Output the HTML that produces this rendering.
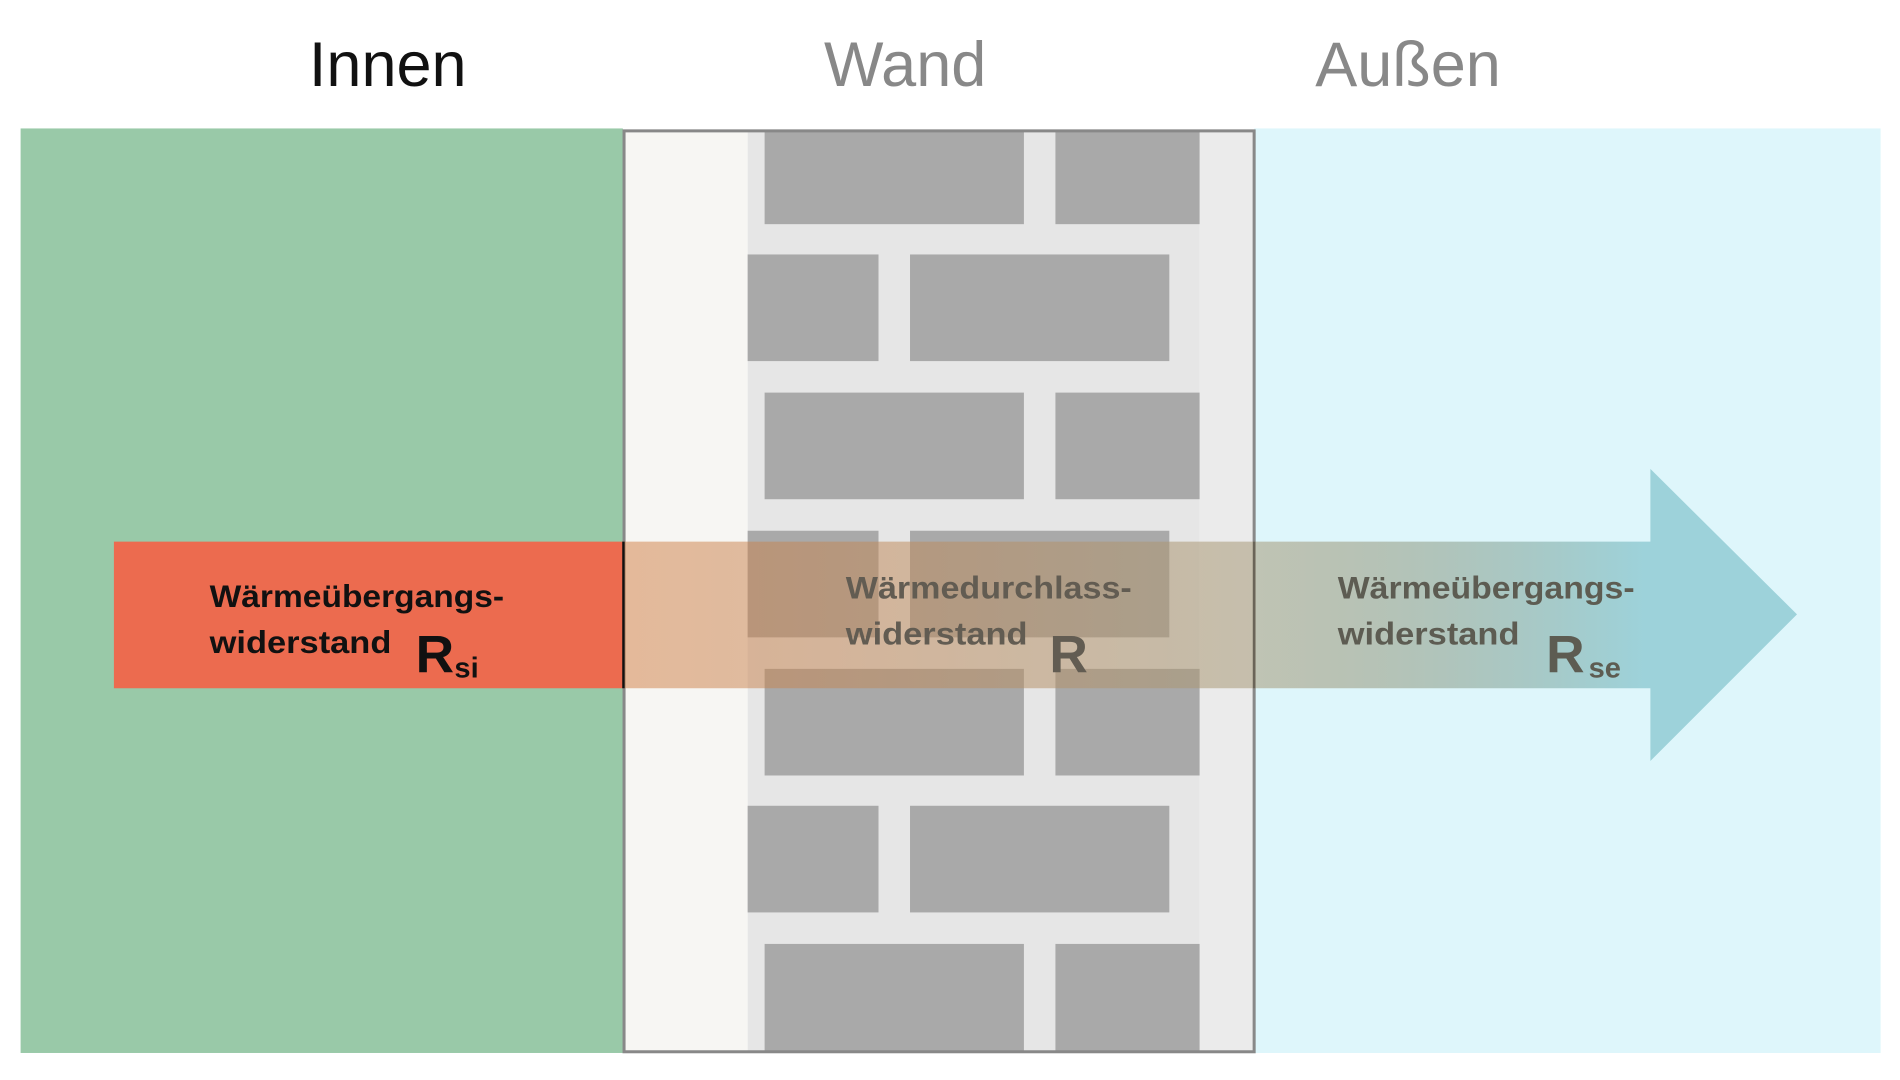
<!DOCTYPE html>
<html><head><meta charset="utf-8"><style>
html,body{margin:0;padding:0;background:#fff;width:1900px;height:1080px;overflow:hidden}
svg{display:block}
text{font-family:"Liberation Sans",sans-serif}
</style></head><body>
<svg id="chart" width="1900" height="1080" viewBox="0 0 1568 891.3" preserveAspectRatio="none" xmlns="http://www.w3.org/2000/svg">
<defs>
<linearGradient id="ov" gradientUnits="userSpaceOnUse" x1="514" y1="0" x2="1483" y2="0">
<stop offset="0" stop-color="rgb(209,124,65)" stop-opacity="0.5"/>
<stop offset="0.54" stop-color="rgb(166,154,121)" stop-opacity="0.55"/>
<stop offset="0.87" stop-color="rgb(157,210,218)" stop-opacity="1"/>
<stop offset="1" stop-color="rgb(157,210,218)" stop-opacity="1"/>
</linearGradient>
</defs>
<text x="320" y="71" font-size="52" fill="#111" text-anchor="middle">Innen</text>
<text x="747" y="71" font-size="52" fill="#888" text-anchor="middle">Wand</text>
<text x="1162" y="71" font-size="52" fill="#888" text-anchor="middle">Außen</text>

<rect x="17" y="106" width="497" height="763" fill="#99c9a8"/>
<rect x="1035" y="106" width="517" height="763" fill="#def6fb"/>
<rect x="514" y="107" width="103" height="762" fill="#f7f6f3"/>
<rect x="617" y="107" width="373" height="762" fill="#e6e6e6"/>
<rect x="990" y="107" width="45" height="762" fill="#ebebeb"/>
<g id="bricks"></g>
<rect x="515" y="108" width="520" height="760" fill="none" stroke="#888" stroke-width="2.5"/>

<rect x="94" y="447" width="420" height="121" fill="#ec6b4f"/>
<path d="M514 447 H1362 V387 L1483 507 L1362 628 V568 H514 Z" fill="url(#ov)"/>
<line x1="514.5" y1="447" x2="514.5" y2="568" stroke="#111" stroke-width="2"/>
<line x1="1035" y1="447" x2="1035" y2="568" stroke="#6a6458" stroke-width="2"/>

<g font-weight="bold" fill="#111">
<text x="173" y="501" font-size="26" textLength="243" lengthAdjust="spacingAndGlyphs">Wärmeübergangs-</text>
<text x="173" y="539" font-size="26" textLength="150" lengthAdjust="spacingAndGlyphs">widerstand</text>
<text x="343" y="555" font-size="44">R</text>
<text x="375" y="559" font-size="24">si</text>
</g>
<g font-weight="bold" fill="#625c52">
<text x="698" y="494" font-size="26" textLength="236" lengthAdjust="spacingAndGlyphs">Wärmedurchlass-</text>
<text x="698" y="532" font-size="26" textLength="150" lengthAdjust="spacingAndGlyphs">widerstand</text>
<text x="866" y="555" font-size="44">R</text>
</g>
<g font-weight="bold" fill="#5d5c52">
<text x="1104" y="494" font-size="26" textLength="245" lengthAdjust="spacingAndGlyphs">Wärmeübergangs-</text>
<text x="1104" y="532" font-size="26" textLength="150" lengthAdjust="spacingAndGlyphs">widerstand</text>
<text x="1276" y="555" font-size="44">R</text>
<text x="1311" y="559" font-size="24">se</text>
</g>
</svg>
<script>
// brick rows: top y of each row, and brick x spans per row type
const rowTops = [107, 210, 324, 438, 552, 665, 779];
const rowHeights = [78, 88, 88, 88, 88, 88, 90];
const oddBricks = [[631, 845], [871, 990]];
const evenBricks = [[617, 725], [751, 965]];
const g = document.getElementById('bricks');
rowTops.forEach((y, i) => {
  const set = i % 2 === 0 ? oddBricks : evenBricks;
  set.forEach((b, j) => {
    const r = document.createElementNS('http://www.w3.org/2000/svg', 'rect');
    r.setAttribute('x', b[0]);
    r.setAttribute('y', y);
    r.setAttribute('width', b[1] - b[0]);
    r.setAttribute('height', rowHeights[i]);
    r.setAttribute('fill', '#a9a9a9');
    
    
    g.appendChild(r);
  });
});
</script>
</body></html>
